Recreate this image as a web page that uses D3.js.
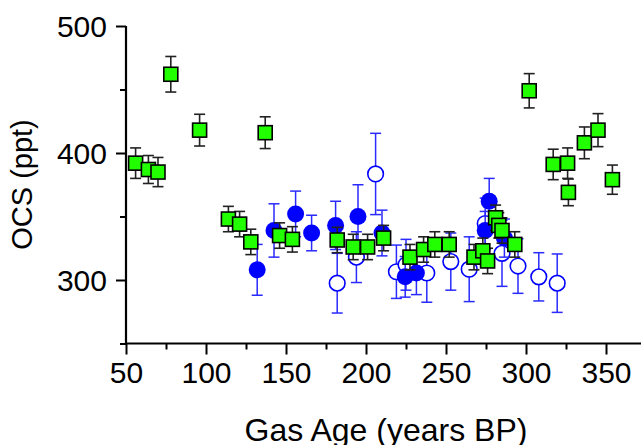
<!DOCTYPE html>
<html><head><meta charset="utf-8">
<script src="https://cdn.jsdelivr.net/npm/d3@7"></script>
<style>body{margin:0;background:#fff}svg{display:block}</style>
</head><body>
<svg id="c" width="641" height="445"></svg>
<script>
const xTicks = [50,100,150,200,250,300,350];
const yTicks = [300,400,500];

const greenAge = [56,64,70,78,96,114,121,128,137,146,154,182,192,201,211,227.5,236,243,252,267.5,273,276,281,283,285,293,302,317,326,326.5,336.5,345,354];
const greenOCS = [392,387,385,462,418,348,344,330,416,335,332,331.5,326,326,333,318,324,328,328,318,323,315,349,343,339,328,449,391,392,369,408,418,379];
const greenErr = [12,11,11.5,14,12.5,10,10,10,12.5,10,10,10,10,10,10,10,10,10,10,10,10,10,10,10,10,10,13.5,12,12,10.5,12.5,13,11.5];

const filledAge = [132,142.5,156,166,181,195,210,224.5,231.5,274.5,277,286.5];
const filledOCS = [308,339,352,337,343,350,337,302.5,305.5,339,362,333];
const filledErr = [20,21,18,14,19,25,18,16,17,15,18,15];

const openAge = [182,194,206,219,225,238,253,264.5,274.5,285,295,308,319.5];
const openOCS = [297.5,318,383.5,306.5,312,305.5,314.5,308.5,344.5,321,311,302.5,297.5];
const openErr = [23.5,20,32,21,20,23,22.5,25.5,20,26,21.5,19,23];

const svg = d3.select('#c');
const x = d3.scaleLinear().domain([50,375]).range([126,646]);
const y = d3.scaleLinear().domain([250,500]).range([343.5,26]);
const FONT = 'Liberation Sans, Arial, sans-serif';

// axes (minor ticks, then labelled major ticks)
const gx = svg.append('g').attr('transform','translate(0,343.5)');
gx.call(d3.axisBottom(x).tickValues(d3.range(75,376,50)).tickSize(6).tickFormat(''));
const gx2 = svg.append('g').attr('transform','translate(0,343.5)');
gx2.call(d3.axisBottom(x).tickValues(xTicks).tickSize(11).tickFormat(d3.format('d')));

const gy = svg.append('g').attr('transform','translate(126,0)');
gy.call(d3.axisLeft(y).tickValues([250,350,450]).tickSize(6).tickFormat(''));
const gy2 = svg.append('g').attr('transform','translate(126,0)');
gy2.call(d3.axisLeft(y).tickValues(yTicks).tickSize(10).tickFormat(d3.format('d')));

svg.selectAll('.domain').attr('stroke','#000').attr('stroke-width',2.2);
svg.selectAll('.tick line').attr('stroke','#000').attr('stroke-width',2);
[gy, gx].forEach(g=>g.select('.domain').remove());
gy2.select('.domain').attr('d','M0,26V343.5');
gx2.select('.domain').attr('d','M126,0H646');

gx2.selectAll('.tick text')
  .attr('font-family',FONT)
  .attr('font-size',30).attr('fill','#000')
  .attr('dy',null).attr('y',39.5);
gy2.selectAll('.tick text')
  .attr('font-family',FONT)
  .attr('font-size',30).attr('fill','#000')
  .attr('x',-19).attr('dy',null).attr('y',10.5);

// titles
svg.append('text').attr('x',386).attr('y',441)
  .attr('text-anchor','middle')
  .attr('font-family',FONT)
  .attr('font-size',32).text('Gas Age (years BP)');
svg.append('text').attr('transform','translate(32,184.5) rotate(-90)')
  .attr('text-anchor','middle')
  .attr('font-family',FONT)
  .attr('font-size',29).text('OCS (ppt)');

function errBars(ages, vals, errs, color, width, cap){
  const g = svg.append('g').attr('stroke',color).attr('stroke-width',width).attr('fill','none');
  ages.forEach((a,i)=>{
    const cx = x(a), y1 = y(vals[i]+errs[i]), y2 = y(vals[i]-errs[i]);
    g.append('line').attr('x1',cx).attr('x2',cx).attr('y1',y1).attr('y2',y2);
    g.append('line').attr('x1',cx-cap).attr('x2',cx+cap).attr('y1',y1).attr('y2',y1);
    g.append('line').attr('x1',cx-cap).attr('x2',cx+cap).attr('y1',y2).attr('y2',y2);
  });
}

// open circles
errBars(openAge, openOCS, openErr, '#2a2aff', 1.5, 5.5);
svg.append('g').selectAll('circle').data(openAge).join('circle')
  .attr('cx',d=>x(d)).attr('cy',(d,i)=>y(openOCS[i])).attr('r',7.8)
  .attr('fill','#fff').attr('stroke','#0000ff').attr('stroke-width',1.6);

// filled circles
errBars(filledAge, filledOCS, filledErr, '#2a2aff', 1.5, 5.5);
svg.append('g').selectAll('circle').data(filledAge).join('circle')
  .attr('cx',d=>x(d)).attr('cy',(d,i)=>y(filledOCS[i])).attr('r',8.5)
  .attr('fill','#0000ff');

// green squares
errBars(greenAge, greenOCS, greenErr, '#222', 1.6, 5.5);
svg.append('g').selectAll('rect').data(greenAge).join('rect')
  .attr('x',d=>x(d)-7).attr('y',(d,i)=>y(greenOCS[i])-7)
  .attr('width',14).attr('height',14)
  .attr('fill','#22ff00').attr('stroke','#000').attr('stroke-width',1.6);
</script>
</body></html>
